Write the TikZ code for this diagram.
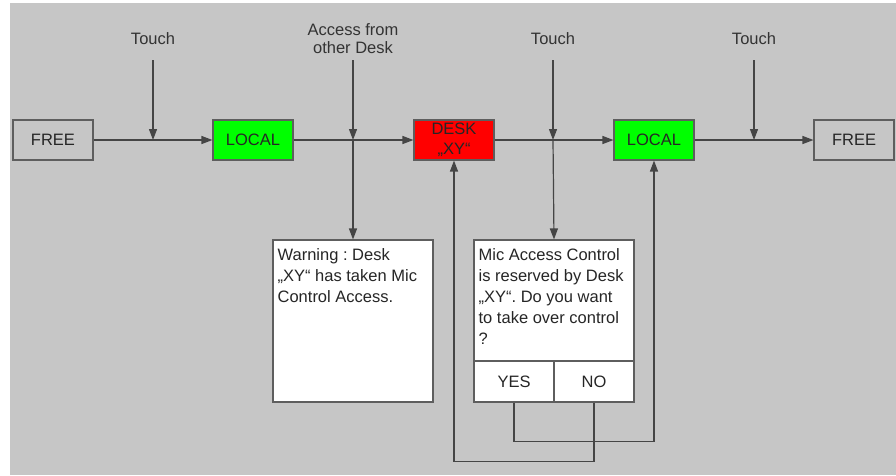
\documentclass[tikz,border=0pt]{standalone}
\usepackage{fontspec}
\setmainfont{Liberation Sans}
\usepackage{tikz}
\usetikzlibrary{arrows.meta, positioning}
\definecolor{bggrey}{HTML}{C6C6C6}
\definecolor{linegrey}{HTML}{454545}
\definecolor{edgegrey}{HTML}{5E5E5E}
\frenchspacing

\begin{document}
\begin{tikzpicture}[x=1pt, y=-1pt,
        freest/.style={rectangle, draw=edgegrey, fill=bggrey, line width=1.1pt, minimum width=80pt, minimum height=40pt, inner sep=0pt, align=center, text=black!85, font=\fontsize{16.5}{20}\selectfont},
        localst/.style={freest, fill=green},
        deskst/.style={freest, fill=red},
        msg/.style={rectangle, draw=edgegrey, fill=white, line width=1.1pt, minimum width=160pt, inner sep=0pt},
        msgtxt/.style={inner xsep=5pt, inner ysep=9pt, align=left, text=black!85, font=\fontsize{16.5}{21}\selectfont},
        btn/.style={rectangle, draw=edgegrey, fill=white, line width=1.1pt, minimum width=80pt, minimum height=41pt, inner sep=0pt, text=black!85, font=\fontsize{16.5}{20}\selectfont},
        lbl/.style={align=center, inner sep=0pt, text=black!80, font=\fontsize{16.5}{18}\selectfont},
        wire/.style={draw=linegrey, line width=1.2pt},
        arrow/.style={wire, -{Triangle[length=11pt, width=8pt]}}
    ]

        % Background
        \useasboundingbox (0,0) rectangle (896,475);
        \fill [bggrey] (10,3) rectangle (896,475);

        % Row 0: states (y = 140)
        \node [freest] (free1) at (53,140) {FREE};
        \node [localst] (local1) at (253,140) {LOCAL};
        \node [deskst] (desk) at (454,140) {DESK\\„XY“};
        \node [localst] (local2) at (654,140) {LOCAL};
        \node [freest] (free2) at (854,140) {FREE};

        \draw [arrow] (free1) -- (local1);
        \draw [arrow] (local1) -- (desk);
        \draw [arrow] (desk) -- (local2);
        \draw [arrow] (local2) -- (free2);

        % Events from above (y = 39)
        \node [lbl] (touch1) at (153,39) {Touch};
        \node [lbl] (access) at (353,39) {Access from\\other Desk};
        \node [lbl] (touch2) at (553,39) {Touch};
        \node [lbl] (touch3) at (754,39) {Touch};

        \coordinate (in1) at (153,60);
        \coordinate (in2) at (353,60);
        \coordinate (in3) at (553,60);
        \coordinate (in4) at (754,60);
        \coordinate (on1) at (153,140);
        \coordinate (on2) at (353,140);
        \coordinate (on3) at (553,140);
        \coordinate (on4) at (754,140);

        \draw [arrow] (in1) -- (on1);
        \draw [arrow] (in2) -- (on2);
        \draw [arrow] (in3) -- (on3);
        \draw [arrow] (in4) -- (on4);

        % Row 1: messages (y = 240 .. 402)
        \node [msg, minimum height=162pt] (warn) at (353,321) {};
        \node [msgtxt, anchor=north west] (warntxt) at (warn.north west) {Warning : Desk\\„XY“ has taken Mic\\Control Access.};

        \node [msg, minimum height=121pt] (ask) at (554,300.5) {};
        \node [msgtxt, anchor=north west] (asktxt) at (ask.north west) {Mic Access Control\\is reserved by Desk\\„XY“. Do you want\\to take over control\\?};
        \node [btn] (yes) at (514,381.5) {YES};
        \node [btn] (no) at (594,381.5) {NO};

        \draw [arrow] (on2) -- (warn.north);
        \draw [arrow] (on3) -- (ask.north);

        % Answers back to the states
        \draw [arrow] (yes.south) -- ++(0,39) -| (local2.south);
        \draw [arrow] (no.south) -- ++(0,59) -| (desk.south);

    \end{tikzpicture}
\end{document}
